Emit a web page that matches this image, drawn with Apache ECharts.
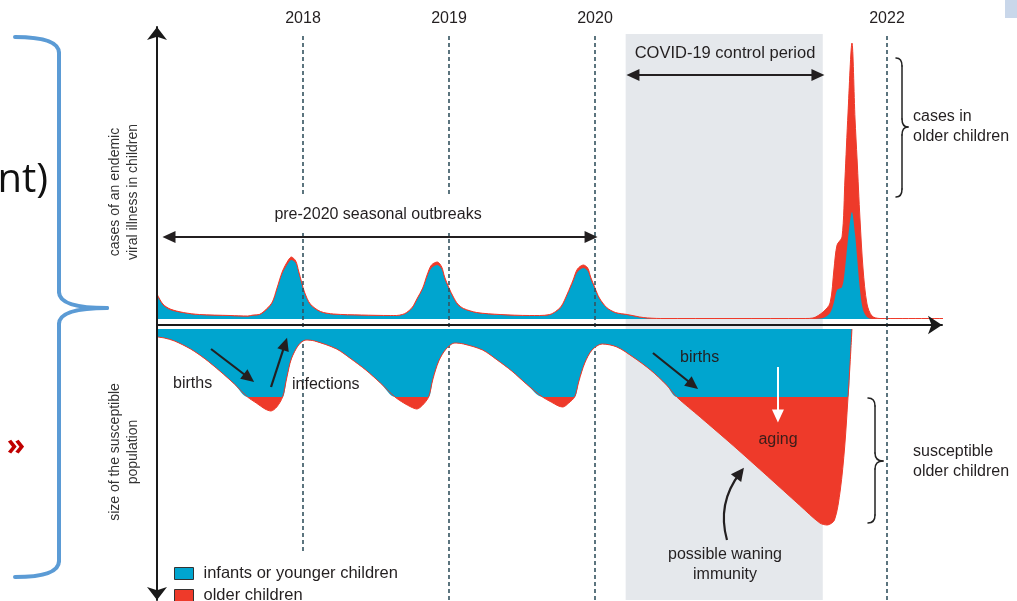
<!DOCTYPE html>
<html>
<head>
<meta charset="utf-8">
<title>Endemic viral illness: cases and susceptible population</title>
<script src="https://cdn.jsdelivr.net/npm/echarts@6/dist/echarts.min.js"></script>
<style>
  html, body { margin: 0; padding: 0; background: #fff; }
  #chart { width: 1017px; height: 601px; }
</style>
</head>
<body>
<div id="chart"></div>
<script>
// --- data (time in years, values in arbitrary case / population units) ---
const yearTicks = [2018, 2019, 2020, 2022];
const yearLabels = ['2018', '2019', '2020', '2022'];
const covidPeriod = [2020.21, 2021.56];

// cases of the illness (above the axis)
const caseTime = [
  2017.00, 2017.04, 2017.09, 2017.18, 2017.29, 2017.50, 2017.62, 2017.66, 2017.70, 2017.75, 2017.79, 2017.82,
  2017.86, 2017.90, 2017.92, 2017.95, 2017.97, 2017.99, 2018.01, 2018.05, 2018.12, 2018.21, 2018.40, 2018.60,
  2018.64, 2018.68, 2018.71, 2018.75, 2018.78, 2018.82, 2018.85, 2018.88, 2018.92, 2018.95, 2018.97, 2019.00,
  2019.03, 2019.06, 2019.10, 2019.19, 2019.35, 2019.55,
  2019.62, 2019.69, 2019.73, 2019.77, 2019.81, 2019.85, 2019.88, 2019.92, 2019.95, 2019.97, 2020.00, 2020.03,
  2020.08, 2020.14, 2020.22, 2020.33, 2020.45, 2021.44,
  2021.493, 2021.562, 2021.610, 2021.637, 2021.658, 2021.692, 2021.712, 2021.733, 2021.760, 2021.781, 2021.795,
  2021.815, 2021.836, 2021.863, 2021.897, 2021.952, 2022.49
];
const casesYoung = [
  24, 14, 9, 6, 4, 3, 2.5, 3.5, 4, 9, 16, 29, 46, 56, 59, 56, 46, 36, 26, 14, 7, 4.5, 3.5, 3,
  3, 4, 6, 11, 19, 30, 42, 51, 54, 50, 40, 30, 21, 14, 10, 6, 4, 3,
  3, 4, 7, 12, 24, 37, 47, 51, 48, 40, 30, 20, 11, 6, 4, 1, 0, 0,
  0, 1, 6, 17, 29, 32, 50, 80, 107, 85, 62, 29, 9, 2, 0, 0, 0
];
const casesAll = [
  25, 15, 10, 6.5, 4.5, 3.5, 3, 4, 4.5, 10, 17, 30, 48, 59, 62, 58, 48, 37, 27, 15, 7.5, 5, 4, 3.5,
  3.5, 4.5, 6.5, 12, 20, 31, 44, 54, 57, 52, 42, 31, 22, 15, 10.5, 6.5, 4.5, 3.5,
  3.5, 4.5, 7.5, 13, 25, 39, 50, 54, 51, 42, 31, 21, 11.5, 6.5, 4.5, 1.5, 0.5, 0.5,
  1, 7, 16, 50, 74, 82, 140, 206, 276, 200, 160, 100, 50, 15, 3, 0.5, 0.5
];

// susceptible population (below the axis)
const suscTime = [
  2017.00, 2017.05, 2017.12, 2017.23, 2017.33, 2017.43, 2017.53, 2017.62, 2017.68, 2017.74, 2017.78, 2017.82,
  2017.86, 2017.89, 2017.92, 2017.97, 2018.02, 2018.08,
  2018.23, 2018.33, 2018.43, 2018.53, 2018.63, 2018.69, 2018.74, 2018.78, 2018.82, 2018.86, 2018.89, 2018.93,
  2018.98, 2019.04, 2019.10,
  2019.23, 2019.33, 2019.43, 2019.53, 2019.64, 2019.70, 2019.75, 2019.78, 2019.82, 2019.86, 2019.89, 2019.93,
  2019.98, 2020.05,
  2020.15, 2020.26, 2020.38, 2020.49, 2020.56, 2020.72, 2020.95, 2021.18, 2021.40, 2021.54, 2021.59, 2021.64,
  2021.68, 2021.71, 2021.733, 2021.747, 2021.760
];
const suscAll = [
  8, 9, 12, 20, 30, 42, 55, 68, 74, 80, 82, 78, 68, 48, 30, 16, 11, 12,
  20, 30, 41, 54, 68, 74, 78, 80, 76, 68, 50, 32, 20, 14, 15,
  21, 31, 42, 55, 68, 73, 77, 78, 74, 68, 52, 34, 21, 15,
  18, 28, 41, 56, 68, 88, 117, 147, 176, 194, 196, 191, 161, 118, 68, 35, 0
];
const suscYoung = [
  8, 9, 12, 20, 30, 42, 55, 68, 68, 68, 68, 68, 68, 48, 30, 16, 11, 12,
  20, 30, 41, 54, 68, 68, 68, 68, 68, 68, 50, 32, 20, 14, 15,
  21, 31, 42, 55, 68, 68, 68, 68, 68, 68, 52, 34, 21, 15,
  18, 28, 41, 56, 68, 68, 68, 68, 68, 68, 68, 68, 68, 68, 68, 35, 0
];

const BLUE = '#00a5cf';
const RED = '#ee3a2a';
const BAND = '#e5e8ec';
const INK = '#231f20';
const FONT = '"Liberation Sans", Arial, sans-serif';
const UP_BASE = 6;    // small white gap above the axis
const LOW_BASE = -4;  // and below it
const NAME_YOUNG = 'infants or younger children';
const NAME_OLD = 'older children';

const up = vals => caseTime.map((t, i) => [t, UP_BASE + vals[i]]);
const down = vals => suscTime.map((t, i) => [t, LOW_BASE - vals[i]]);

function areaSeries(name, data, color, base, z, withLine) {
  return {
    name, type: 'line', data, z, clip: false, silent: true,
    smooth: 0.3, symbol: 'none', showSymbol: false,
    itemStyle: { color },
    lineStyle: withLine ? { color, width: 1 } : { width: 0, opacity: 0 },
    areaStyle: { color, opacity: 1, origin: base }
  };
}

// curly brace made of plain shapes, opening to the left, tip at (xc, ym)
function brace(x0, xm, xc, y0, ym, y1, r, stroke, lw) {
  const style = { stroke, lineWidth: lw, fill: null, lineCap: 'round' };
  const parts = [
    { type: 'bezierCurve', shape: { x1: x0, y1: y0, cpx1: xm, cpy1: y0, x2: xm, y2: y0 + r } },
    { type: 'line', shape: { x1: xm, y1: y0 + r, x2: xm, y2: ym - r } },
    { type: 'bezierCurve', shape: { x1: xm, y1: ym - r, cpx1: xm, cpy1: ym, x2: xc, y2: ym } },
    { type: 'bezierCurve', shape: { x1: xc, y1: ym, cpx1: xm, cpy1: ym, x2: xm, y2: ym + r } },
    { type: 'line', shape: { x1: xm, y1: ym + r, x2: xm, y2: y1 - r } },
    { type: 'bezierCurve', shape: { x1: xm, y1: y1 - r, cpx1: xm, cpy1: y1, x2: x0, y2: y1 } }
  ];
  return parts.map(p => Object.assign(p, { style, z: 50, silent: true }));
}

function text(str, x, y, opts) {
  return {
    type: 'text', x, y, z: 100, silent: true,
    rotation: (opts && opts.rotation) || 0,
    style: Object.assign({
      text: str, fill: INK, fontSize: 16, fontFamily: FONT,
      align: 'left', verticalAlign: 'middle', lineHeight: 20
    }, opts && opts.style)
  };
}

const chart = echarts.init(document.getElementById('chart'));

chart.setOption({
  animation: false,
  textStyle: { fontFamily: FONT },
  grid: { left: 157, right: 75, top: 27, bottom: 1, outerBoundsMode: 'none' },
  xAxis: {
    type: 'value', min: 2017, max: 2022.3767, z: 10,
    axisLine: {
      onZero: true, symbol: ['none', 'arrow'], symbolSize: [14, 14],
      lineStyle: { color: '#1a1a1a', width: 2 }
    },
    axisTick: { show: false }, axisLabel: { show: false }, splitLine: { show: false }
  },
  yAxis: {
    type: 'value', min: -275, max: 298, z: 10,
    axisLine: {
      show: true, symbol: ['arrow', 'arrow'], symbolSize: [15, 13],
      lineStyle: { color: '#1a1a1a', width: 2 }
    },
    axisTick: { show: false }, axisLabel: { show: false }, splitLine: { show: false }
  },
  legend: {
    data: [NAME_YOUNG, NAME_OLD],
    orient: 'vertical', left: 170, top: 552, height: 90,
    padding: [13, 6, 0, 4], backgroundColor: '#fff',
    icon: 'rect', itemWidth: 19, itemHeight: 12, itemGap: 5,
    selectedMode: false,
    itemStyle: { borderColor: '#333', borderWidth: 1 },
    textStyle: { fontSize: 16.5, color: INK, padding: [0, 0, 0, 5] }
  },
  series: [
    Object.assign(areaSeries(NAME_OLD, up(casesAll), RED, UP_BASE, 2, true), {
      markArea: {
        silent: true, z: 1,
        itemStyle: { color: BAND },
        data: [[{ xAxis: covidPeriod[0], yAxis: 291 }, { xAxis: covidPeriod[1], yAxis: -275 }]]
      }
    }),
    Object.assign(areaSeries(NAME_YOUNG, up(casesYoung), BLUE, UP_BASE, 2, false), {
      markLine: {
        silent: true, z: 3, symbol: ['none', 'none'],
        lineStyle: { color: '#34535f', width: 1.6, type: [4, 3] },
        label: { show: true, position: 'end', distance: 6, color: INK, fontSize: 16, formatter: '{b}' },
        data: yearTicks.map((yr, i) => [
          { name: yearLabels[i], coord: [yr, -275] },
          { coord: [yr, 292] }
        ])
      }
    }),
    areaSeries(NAME_OLD, down(suscAll), RED, LOW_BASE, 4, true),
    Object.assign(areaSeries(NAME_YOUNG, down(suscYoung), BLUE, LOW_BASE, 4, false), {
      markLine: {
        silent: true, z: 6,
        symbol: ['none', 'triangle'], symbolSize: [12, 13],
        label: { show: false },
        lineStyle: { color: INK, width: 2.2, type: 'solid' },
        data: [
          [{ coord: [2017.082, 88], symbol: 'triangle' }, { coord: [2019.973, 88] }],
          [{ coord: [2020.260, 250], symbol: 'triangle' }, { coord: [2021.527, 250] }],
          [{ coord: [2017.370, -24] }, { coord: [2017.630, -53] }],
          [{ coord: [2017.781, -62] }, { coord: [2017.877, -19] }],
          [{ coord: [2020.397, -28] }, { coord: [2020.671, -60] }],
          [{ coord: [2021.253, -42], lineStyle: { color: '#fff', width: 2 } }, { coord: [2021.253, -91] }]
        ]
      }
    }),
    {
      // curved "possible waning immunity" arrow
      type: 'lines', coordinateSystem: 'cartesian2d', z: 6, silent: true,
      symbol: ['none', 'triangle'], symbolSize: [12, 13],
      lineStyle: { color: INK, width: 2.2, curveness: 0.25, opacity: 1 },
      data: [{ coords: [[2020.904, -215], [2020.993, -148]] }]
    }
  ],
  graphic: {
    elements: [
      // slide remnants on the left and the corner
      { type: 'rect', shape: { x: 1005, y: 0, width: 12, height: 18 }, style: { fill: '#c9d7ea' }, z: 50, silent: true },
      text('nt)', 48, 181, { style: { align: 'right', fontSize: 40, fontFamily: '"Open Sans", "Noto Sans", sans-serif', fill: '#111' } }),
      text('\u00bb', 16, 446, { style: { align: 'center', fontSize: 30, fontWeight: 'bold', fill: '#c00000', fontFamily: '"Open Sans", sans-serif' } }),
      ...brace(15, 59, 107, 37, 308, 577, 16, '#5b9bd5', 4),

      // axis titles
      text('cases of an endemic\nviral illness in children', 124, 192,
        { rotation: Math.PI / 2, style: { align: 'center', fontSize: 14, lineHeight: 18, fill: '#333' } }),
      text('size of the susceptible\npopulation', 124, 452,
        { rotation: Math.PI / 2, style: { align: 'center', fontSize: 14, lineHeight: 18, fill: '#333' } }),

      // annotations
      text('pre-2020 seasonal outbreaks', 378, 215,
        { style: { align: 'center', backgroundColor: '#fff', padding: [8, 5, 8, 5] } }),
      text('COVID-19 control period', 725, 53, { style: { align: 'center', fontSize: 16.5 } }),
      text('cases in\nolder children', 913, 127),
      text('susceptible\nolder children', 913, 462),
      text('births', 173, 384),
      text('infections', 292, 385),
      text('births', 680, 358),
      text('aging', 778, 440, { style: { align: 'center', fill: '#3a1d1a' } }),
      text('possible waning\nimmunity', 725, 565, { style: { align: 'center' } }),
      ...brace(896, 902, 908, 58, 127, 197, 8, '#222', 1.5),
      ...brace(868, 875, 883, 398, 461, 523, 8, '#222', 1.5)
    ]
  }
});
</script>
</body>
</html>
